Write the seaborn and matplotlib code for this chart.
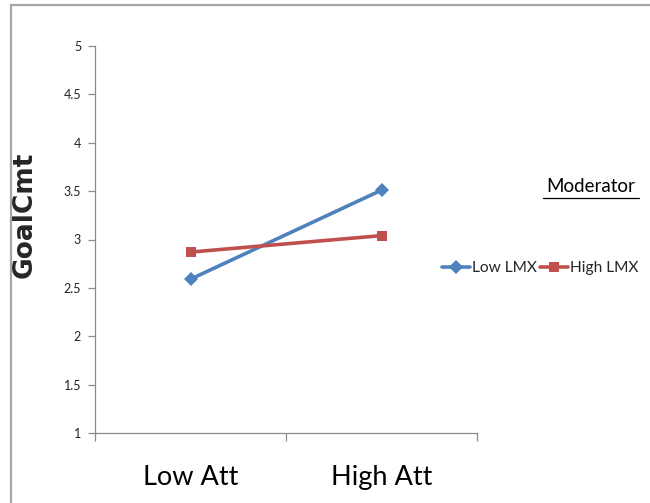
import matplotlib
matplotlib.use("Agg")
import matplotlib.pyplot as plt
import seaborn as sns
import pandas as pd
from matplotlib.lines import Line2D
from matplotlib.patches import Rectangle

categories = ["Low Att", "High Att"]
low_lmx = [2.59, 3.51]
high_lmx = [2.87, 3.04]
series_names = ["Low LMX", "High LMX"]
y_ticks = [1, 1.5, 2, 2.5, 3, 3.5, 4, 4.5, 5]

df = pd.DataFrame({
    "cat": categories * 2,
    "val": low_lmx + high_lmx,
    "series": [series_names[0]] * 2 + [series_names[1]] * 2,
})

sns.set_theme(style="white")
plt.rcParams["font.family"] = ["Lato", "DejaVu Sans"]

W, H = 650, 503
fig = plt.figure(figsize=(6.5, 5.03), dpi=100)
ax = fig.add_axes([95 / W, 1 - 433 / H, (477 - 95) / W, (433 - 46) / H])

palette = {"Low LMX": "#4F81BD", "High LMX": "#C0504D"}
markers = {"Low LMX": "D", "High LMX": "s"}
sns.lineplot(data=df, x="cat", y="val", hue="series", style="series",
             markers=markers, dashes=False, palette=palette, ax=ax,
             linewidth=2.6, markersize=7, markeredgewidth=0, legend=False)

ax.set_xlim(-0.5, 1.5)
ax.set_ylim(1, 5)
ax.set_yticks(y_ticks)
ax.set_yticklabels([f"{v:g}" for v in y_ticks], fontsize=9, color="#222222")
ax.set_xticks([-0.5, 0.5, 1.5])
ax.set_xticklabels([])
ax.set_xticks([0, 1], minor=True)
ax.set_xticklabels(categories, minor=True, fontsize=19.5, color="black")
ax.tick_params(axis="x", which="minor", length=0, pad=23)
ax.tick_params(axis="x", which="major", length=6, width=0.9, color="#8c8c8c", direction="out", bottom=True)
ax.tick_params(axis="y", which="major", length=5, width=0.9, color="#8c8c8c", direction="out", left=True, pad=5)
for s in ["top", "right"]:
    ax.spines[s].set_visible(False)
for s in ["left", "bottom"]:
    ax.spines[s].set_color("#8c8c8c")
    ax.spines[s].set_linewidth(0.9)
ax.set_xlabel("")
ax.set_ylabel("GoalCmt", fontsize=19, fontweight="bold",
              family=["DejaVu Sans"], va="center")
ax.yaxis.set_label_coords(-(95 - 25) / (477 - 95), (433 - 215) / (433 - 46))

# outer border (left and top, extending off the canvas)
fig.add_artist(Rectangle((10.5 / W, -0.1), 1.2, (1 - 5.5 / H) + 0.1,
                         transform=fig.transFigure, fill=False,
                         edgecolor="#a6a6a6", linewidth=1.6))

# legend title
fig.text(591 / W, 1 - 186 / H, "Moderator", ha="center", va="center", fontsize=13.5, color="black")
fig.add_artist(Line2D([543 / W, 639 / W], [1 - 198 / H, 1 - 198 / H],
                      transform=fig.transFigure, color="black", linewidth=0.9))

handles = [Line2D([], [], color=palette[n], marker=markers[n], markersize=7,
                  markeredgewidth=0, linewidth=2.6) for n in series_names]
fig.legend(handles, series_names, loc="center left", ncol=2,
           bbox_to_anchor=(442 / W, 1 - 268 / H), frameon=False,
           fontsize=11.2, handlelength=1.8, handletextpad=0.1,
           columnspacing=0.25, borderaxespad=0, borderpad=0)

fig.savefig("out.png", dpi=100)
